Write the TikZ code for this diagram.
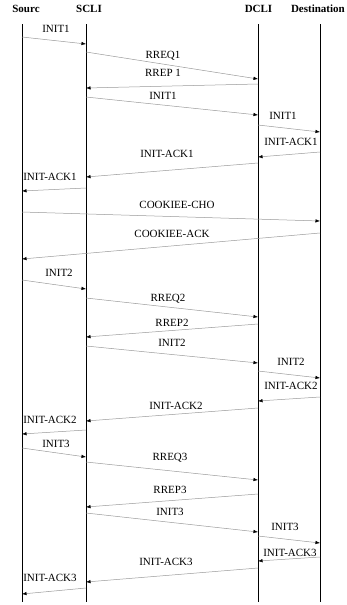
\documentclass[tikz,border=0pt]{standalone}
\usepackage{fontspec}
\setmainfont{Liberation Serif}
\usetikzlibrary{arrows.meta}

\begin{document}
\begin{tikzpicture}[x=1pt, y=-1pt, >=Latex,
  life/.style={line width=0.9pt},
  msg/.style={gray!80, line width=0.5pt, -{Latex[length=4.5pt, width=3.5pt, color=black]}},
  lbl/.style={inner sep=0pt, font=\fontsize{11}{13}\selectfont},
  hdr/.style={inner sep=0pt, font=\fontsize{11}{13}\selectfont\bfseries}]
  \useasboundingbox (0,0) rectangle (346,605);
  \coordinate (src) at (22,24);
  \coordinate (scl) at (86,24);
  \coordinate (dcl) at (258,24);
  \coordinate (dst) at (320,24);
  \coordinate (src-b) at (22,602);
  \coordinate (scl-b) at (86,602);
  \coordinate (dcl-b) at (258,602);
  \coordinate (dst-b) at (320,602);
  \node[hdr] (hsrc) at (26,8.5) {Sourc};
  \node[hdr] (hscl) at (89,8.5) {SCLI};
  \node[hdr] (hdcl) at (258.5,8.5) {DCLI};
  \node[hdr, anchor=east] (hdst) at (345,8.5) {Destination};
  \foreach \p in {src,scl,dcl,dst}
    \draw[life] (\p) -- (\p-b);
  \foreach \a/\ya/\b/\yb/\lx/\ly/\t [count=\i] in {
    src/37/scl/44/56/29/INIT1,
    scl/52/dcl/79/163/56/RREQ1,
    dcl/84/scl/88/163/73/RREP 1,
    scl/97/dcl/115/163/96/INIT1,
    dcl/125/dst/132/283/116/INIT1,
    dst/152/dcl/157/291/142/INIT-ACK1,
    dcl/163/scl/177/167/154/INIT-ACK1,
    scl/188/src/191/50/177/INIT-ACK1,
    src/212/dst/221/177/205/COOKIEE-CHO,
    dst/233/src/259/172/234/COOKIEE-ACK,
    src/280/scl/289/59/273/INIT2,
    scl/298/dcl/317/168/299/RREQ2,
    dcl/324/scl/337/172/323/RREP2,
    scl/346/dcl/363/172/343/INIT2,
    dcl/371/dst/378/291/362/INIT2,
    dst/397/dcl/401/291/386/INIT-ACK2,
    dcl/408/scl/421/176/406/INIT-ACK2,
    scl/430/src/434/50/420/INIT-ACK2,
    src/448/scl/457/56/444/INIT3,
    scl/462/dcl/480/170/458/RREQ3,
    dcl/494/scl/507/170/490/RREP3,
    scl/513/dcl/532/170/512/INIT3,
    dcl/536/dst/543/285/527/INIT3,
    dst/557/dcl/561/290/553/INIT-ACK3,
    dcl/568/scl/582/166/562/INIT-ACK3,
    scl/588/src/594/50/578/INIT-ACK3}{
    \draw[msg] (\a |- 0,\ya) -- (\b |- 0,\yb);
    \node[lbl] (m\i) at (\lx,\ly) {\t};
  }
\end{tikzpicture}
\end{document}
